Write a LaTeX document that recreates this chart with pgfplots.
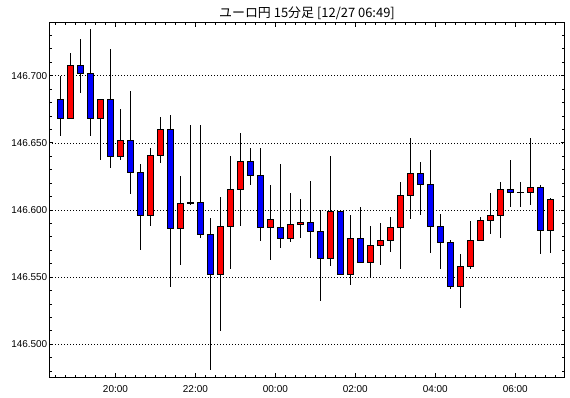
\documentclass[border=0pt]{standalone}
\usepackage{pgfplots}
\pgfplotsset{compat=1.18}
\usepackage{pgfplotstable}
\usepgfplotslibrary{statistics}
\usepackage{fontspec}
\setmainfont{Liberation Sans}
\newfontfamily\jp{Noto Sans CJK JP}

% k = bar index (15-minute bars, first bar 18:30), l = low, bl/bh = body low/high, h = high, up = 1 if close > open
\pgfplotstableread{
k l bl bh h up
1 146.655 146.668 146.682 146.700 0
2 146.668 146.668 146.708 146.717 1
3 146.687 146.702 146.708 146.727 0
4 146.655 146.668 146.702 146.735 0
5 146.637 146.668 146.682 146.682 1
6 146.631 146.640 146.682 146.720 0
7 146.637 146.640 146.652 146.675 1
8 146.612 146.628 146.652 146.689 0
9 146.570 146.596 146.628 146.634 0
10 146.588 146.596 146.641 146.646 1
11 146.635 146.641 146.660 146.669 1
12 146.543 146.586 146.660 146.671 0
13 146.559 146.586 146.605 146.625 1
14 146.6042 146.6047 146.6057 146.663 0
15 146.579 146.582 146.606 146.663 0
16 146.481 146.552 146.582 146.594 0
17 146.510 146.552 146.588 146.610 1
18 146.556 146.588 146.615 146.640 1
19 146.588 146.615 146.636 146.657 1
20 146.619 146.626 146.636 146.646 0
21 146.577 146.587 146.626 146.646 0
22 146.563 146.587 146.593 146.619 1
23 146.572 146.579 146.587 146.634 0
24 146.576 146.579 146.589 146.613 1
25 146.579 146.589 146.591 146.608 1
26 146.564 146.584 146.591 146.622 0
27 146.532 146.564 146.584 146.600 0
28 146.558 146.564 146.599 146.640 1
29 146.552 146.552 146.599 146.599 0
30 146.544 146.552 146.579 146.596 1
31 146.561 146.561 146.579 146.602 0
32 146.550 146.561 146.574 146.588 1
33 146.559 146.574 146.577 146.590 1
34 146.569 146.577 146.587 146.595 1
35 146.556 146.587 146.611 146.621 1
36 146.593 146.611 146.627 146.654 1
37 146.596 146.619 146.627 146.636 0
38 146.568 146.588 146.619 146.645 0
39 146.556 146.576 146.588 146.597 0
40 146.541 146.543 146.576 146.578 0
41 146.527 146.543 146.558 146.567 1
42 146.556 146.558 146.577 146.592 1
43 146.577 146.577 146.592 146.595 1
44 146.582 146.592 146.596 146.613 1
45 146.579 146.596 146.615 146.621 1
46 146.602 146.613 146.615 146.637 0
47 146.602 146.6128 146.6132 146.621 0
48 146.604 146.613 146.617 146.654 1
49 146.567 146.585 146.617 146.619 0
50 146.568 146.585 146.608 146.609 1
}\candles

\definecolor{upred}{RGB}{255,0,0}
\definecolor{downblue}{RGB}{0,0,255}

\begin{document}
\begin{tikzpicture}
\useasboundingbox (-49.3bp,-21bp) rectangle (520.7bp,377bp);
\begin{axis}[
  scale only axis,
  width=515.4bp, height=354.3bp,
  xmin=-0.12, xmax=51.45,
  ymin=146.4757, ymax=146.7395,
  axis line style={black, line width=1bp},
  /pgf/number format/assume math mode=true,
  font=\fontsize{10}{12}\selectfont,
  xtick={6.5,14.5,22.5,30.5,38.5,46.5},
  xticklabels={20:00,22:00,00:00,02:00,04:00,06:00},
  minor xtick={0.5,1.5,...,50.5},
  ytick={146.500,146.550,146.600,146.650,146.700},
  minor ytick={146.48,146.49,146.51,146.52,146.53,146.54,146.56,146.57,146.58,146.59,146.61,146.62,146.63,146.64,146.66,146.67,146.68,146.69,146.71,146.72,146.73},
  scaled y ticks=false,
  yticklabel style={/pgf/number format/fixed, /pgf/number format/fixed zerofill, /pgf/number format/precision=3},
  yticklabel shift=-1.5bp,
  xticklabel shift=5bp,
  tick align=inside,
  major tick length=4bp,
  minor tick length=2.5bp,
  every tick/.style={black, line width=1bp},
  ymajorgrids,
  major grid style={black, line width=0.8bp, dash pattern=on 1bp off 2bp},
  title={\jp ユーロ円 15分足 [12/27 06:49]},
  title style={at={(0.5,1)}, anchor=base, yshift=-1bp, font=\fontsize{13}{15}\selectfont},
  boxplot/draw direction=y,
  boxplot/box extend=0.63,
  boxplot/whisker extend=0,
  candle up/.style={boxplot/every box/.style={draw=black, fill=upred, line width=0.9bp},
                    boxplot/every whisker/.style={black, line width=1.3bp},
                    boxplot/every median/.style={black, line width=0.9bp}},
  candle down/.style={boxplot/every box/.style={draw=black, fill=downblue, line width=0.9bp},
                    boxplot/every whisker/.style={black, line width=1.3bp},
                    boxplot/every median/.style={black, line width=0.9bp}},
]
\pgfplotsinvokeforeach{0,...,49}{
  \pgfplotstablegetelem{#1}{l}\of\candles \let\cL\pgfplotsretval
  \pgfplotstablegetelem{#1}{bl}\of\candles \let\cBL\pgfplotsretval
  \pgfplotstablegetelem{#1}{bh}\of\candles \let\cBH\pgfplotsretval
  \pgfplotstablegetelem{#1}{h}\of\candles \let\cH\pgfplotsretval
  \pgfplotstablegetelem{#1}{up}\of\candles \let\cU\pgfplotsretval
  \edef\doit{\noexpand\addplot[black, \ifnum\cU=1 candle up\else candle down\fi,
      boxplot prepared={draw position=\the\numexpr#1+1\relax,
        lower whisker=\cL, lower quartile=\cBL, median=\cBH,
        upper quartile=\cBH, upper whisker=\cH}] coordinates {};}
  \doit
}
\end{axis}
\end{tikzpicture}
\end{document}
